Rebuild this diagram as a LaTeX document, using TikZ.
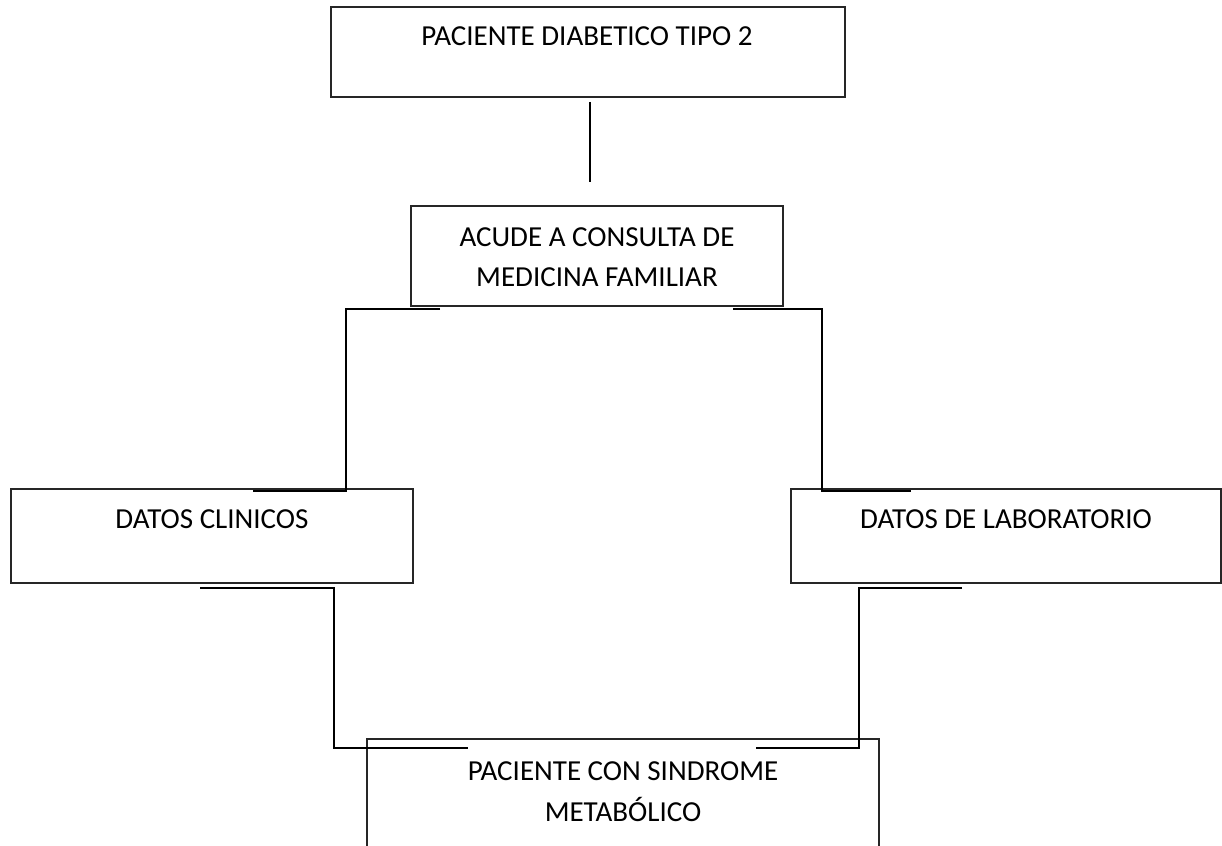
\documentclass[tikz,border=0pt]{standalone}
\usepackage{fontspec}
\setmainfont{Carlito}
\usetikzlibrary{calc}
\begin{document}
\begin{tikzpicture}[x=1pt,y=-1pt,
  box/.style={draw=black!85,line width=1.3pt,rectangle,inner sep=0pt,outer sep=0pt},
  lbl/.style={anchor=base,inner sep=0pt,font=\fontsize{29}{40}\selectfont},
  conn/.style={draw=black,line width=2pt}]
\useasboundingbox (0,0) rectangle (1222,845);
% boxes
\node[box,minimum width=514pt,minimum height=90pt] (b1) at (588,52) {};
\node[box,minimum width=372pt,minimum height=100pt] (b2) at (597,256) {};
\node[box,minimum width=402pt,minimum height=94pt] (b3) at (212,536) {};
\node[box,minimum width=430pt,minimum height=94pt] (b4) at (1006,536) {};
\node[box,minimum width=512pt,minimum height=140pt] (b5) at (623,809) {};
% texts
\node[lbl] (t1) at (587,46) {PACIENTE DIABETICO TIPO 2};
\node[lbl] (t2a) at (597,246) {ACUDE A CONSULTA DE};
\node[lbl] (t2b) at (597,286) {MEDICINA FAMILIAR};
\node[lbl] (t3) at (212,528) {DATOS CLINICOS};
\node[lbl] (t4) at (1006,528) {DATOS DE LABORATORIO};
\node[lbl] (t5a) at (623,780) {PACIENTE CON SINDROME};
\node[lbl] (t5b) at (623,821) {METABÓLICO};
% connector coordinates
\coordinate (c0a) at ($(b1.south)+(2,5)$);
\coordinate (c0b) at ($(b2.north)+(-7,-24)$);
\coordinate (l1) at ($(b2.south west)+(29,3)$);
\coordinate (l2) at ($(b3.north east)+(-160,2)$);
\coordinate (r1) at ($(b2.south east)+(-50,3)$);
\coordinate (r2) at ($(b4.north west)+(120,2)$);
\coordinate (lb1) at ($(b3.south)+(-12,5)$);
\coordinate (lb2) at ($(b5.north west)+(101,9)$);
\coordinate (rb1) at ($(b4.south west)+(171,5)$);
\coordinate (rb2) at ($(b5.north east)+(-123,9)$);
% connectors
\draw[conn] (c0a) -- (c0b);
\draw[conn] (l1) -- (346,309) -- (346,491) -- (l2);
\draw[conn] (r1) -- (822,309) -- (822,491) -- (r2);
\draw[conn] (lb1) -- (334,588) -- (334,748) -- (lb2);
\draw[conn] (rb1) -- (859,588) -- (859,748) -- (rb2);
\end{tikzpicture}
\end{document}
